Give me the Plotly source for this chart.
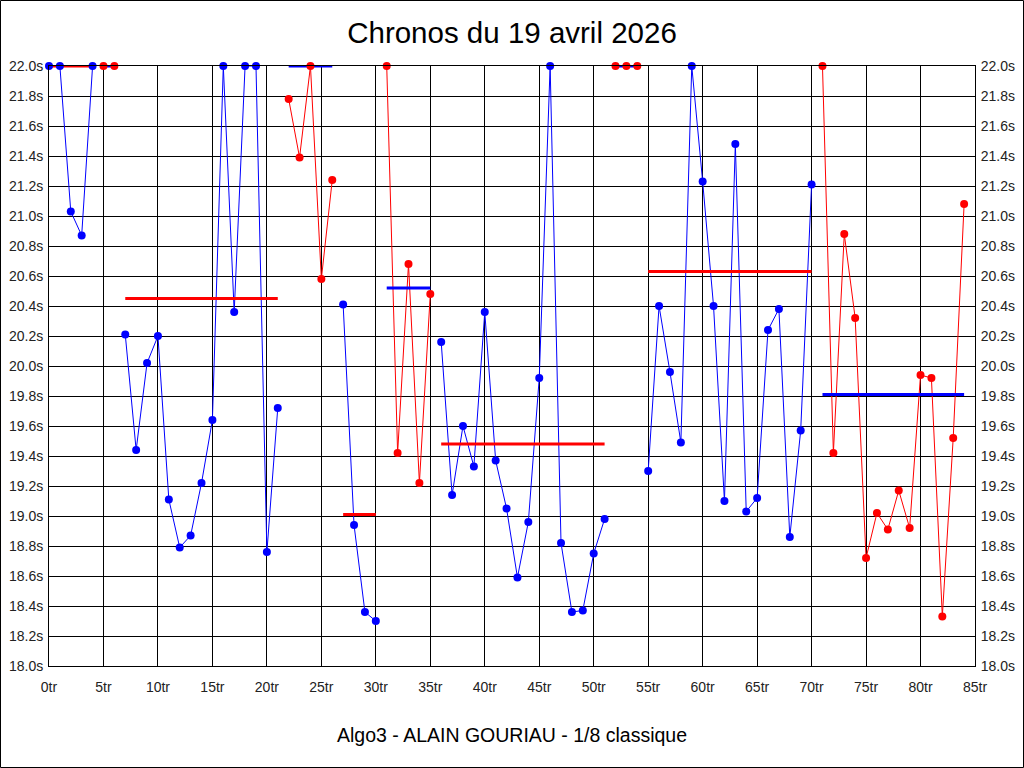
import plotly.graph_objects as go

# ---- data ----
laps = list(range(85))
times = [22.0, 22.0, 21.03, 20.87, 22.0, 22.0, 22.0, 20.21, 19.44, 20.02,
         20.20, 19.11, 18.79, 18.87, 19.22, 19.64, 22.0, 20.36, 22.0, 22.0,
         18.76, 19.72, 21.78, 21.39, 22.0, 20.58, 21.24, 20.41, 18.94, 18.36,
         18.30, 22.0, 19.42, 20.68, 19.22, 20.48, 20.16, 19.14, 19.60, 19.33,
         20.36, 19.37, 19.05, 18.59, 18.96, 19.92, 22.0, 18.82, 18.36, 18.37,
         18.75, 18.98, 22.0, 22.0, 22.0, 19.30, 20.40, 19.96, 19.49, 22.0,
         21.23, 20.40, 19.10, 21.48, 19.03, 19.12, 20.24, 20.38, 18.86, 19.57,
         21.21, 22.0, 19.42, 20.88, 20.32, 18.72, 19.02, 18.91, 19.17, 18.92,
         19.94, 19.92, 18.33, 19.52, 21.08]
seg_start = [0, 5, 7, 22, 27, 31, 36, 52, 55, 71]
seg_end = [4, 6, 21, 26, 30, 35, 51, 54, 70, 84]
seg_avg = [22.0, 22.0, 20.45, 22.0, 19.01, 20.52, 19.48, 22.0, 20.63, 19.81]

y_ticks = [round(18.0 + 0.2 * i, 1) for i in range(21)]
x_ticks = list(range(0, 90, 5))

title_text = "Chronos du 19 avril 2026"
xlabel_text = "Algo3 - ALAIN GOURIAU - 1/8 classique"

BLUE = "#0000FF"
RED = "#FF0000"
FONT = "Liberation Sans, Arial, sans-serif"

fig = go.Figure()

# segment lines
for i, (s, e) in enumerate(zip(seg_start, seg_end)):
    col = BLUE if i % 2 == 0 else RED
    fig.add_trace(go.Scatter(x=laps[s:e + 1], y=times[s:e + 1], mode="lines",
                             line=dict(color=col, width=1), showlegend=False,
                             hoverinfo="skip", cliponaxis=False))
# average lines (opposite colour)
for i, (s, e, a) in enumerate(zip(seg_start, seg_end, seg_avg)):
    col = RED if i % 2 == 0 else BLUE
    fig.add_trace(go.Scatter(x=[laps[s], laps[e]], y=[a, a], mode="lines",
                             line=dict(color=col, width=3), showlegend=False,
                             hoverinfo="skip", cliponaxis=False))
# markers
for i, (s, e) in enumerate(zip(seg_start, seg_end)):
    col = BLUE if i % 2 == 0 else RED
    fig.add_trace(go.Scatter(x=laps[s:e + 1], y=times[s:e + 1], mode="markers",
                             marker=dict(color=col, size=8, line=dict(width=0)),
                             showlegend=False, cliponaxis=False))

# invisible trace for right axis
fig.add_trace(go.Scatter(x=[0], y=[18], yaxis="y2", mode="markers",
                         marker=dict(opacity=0), showlegend=False, hoverinfo="skip"))

W, H = 1024, 768
L, R, T, B = 49, 49, 66, 102
pw, ph = W - L - R, H - T - B

tickfont = dict(family=FONT, size=14, color="#222222")

fig.update_layout(
    width=W, height=H,
    margin=dict(l=L, r=R, t=T, b=B, pad=0, autoexpand=False),
    paper_bgcolor="white", plot_bgcolor="white",
    title=dict(text=title_text, x=0.5, xanchor="center", xref="paper",
               y=1 - 33 / H, yref="container", yanchor="middle",
               font=dict(family=FONT, size=29.5, color="black")),
    xaxis=dict(range=[0, 85], tickvals=x_ticks, ticktext=[f"{v}tr" for v in x_ticks],
               showgrid=True, gridcolor="black", gridwidth=1, zeroline=False,
               showline=True, linecolor="black", linewidth=1, mirror=True,
               ticks="outside", ticklen=8, tickcolor="rgba(0,0,0,0)",
               tickfont=tickfont),
    yaxis=dict(range=[18.0, 22.0], tickvals=y_ticks,
               ticktext=[f"{v:.1f}s" for v in y_ticks],
               showgrid=True, gridcolor="black", gridwidth=1, zeroline=False,
               showline=True, linecolor="black", linewidth=1, mirror=True,
               ticks="outside", ticklen=2, tickcolor="rgba(0,0,0,0)",
               tickfont=tickfont),
    yaxis2=dict(range=[18.0, 22.0], tickvals=y_ticks,
                ticktext=[f"{v:.1f}s" for v in y_ticks],
                overlaying="y", side="right", showgrid=False, zeroline=False,
                ticks="outside", ticklen=2, tickcolor="rgba(0,0,0,0)",
                tickfont=tickfont),
    annotations=[dict(text=xlabel_text, x=0.5, y=-(734.5 - (T + ph)) / ph,
                      xref="paper", yref="paper", xanchor="center", yanchor="middle",
                      showarrow=False, font=dict(family=FONT, size=19.5, color="black"))],
    shapes=[dict(type="rect", xref="paper", yref="paper",
                 x0=(0.5 - L) / pw, x1=(W - 0.5 - L) / pw,
                 y0=-(H - 0.5 - T - ph) / ph, y1=(T + ph - 0.5) / ph,
                 line=dict(color="black", width=1), fillcolor="rgba(0,0,0,0)",
                 layer="above")],
)

fig.write_html("out.html", config={"displayModeBar": False},
               post_script="document.body.style.margin='0';")
